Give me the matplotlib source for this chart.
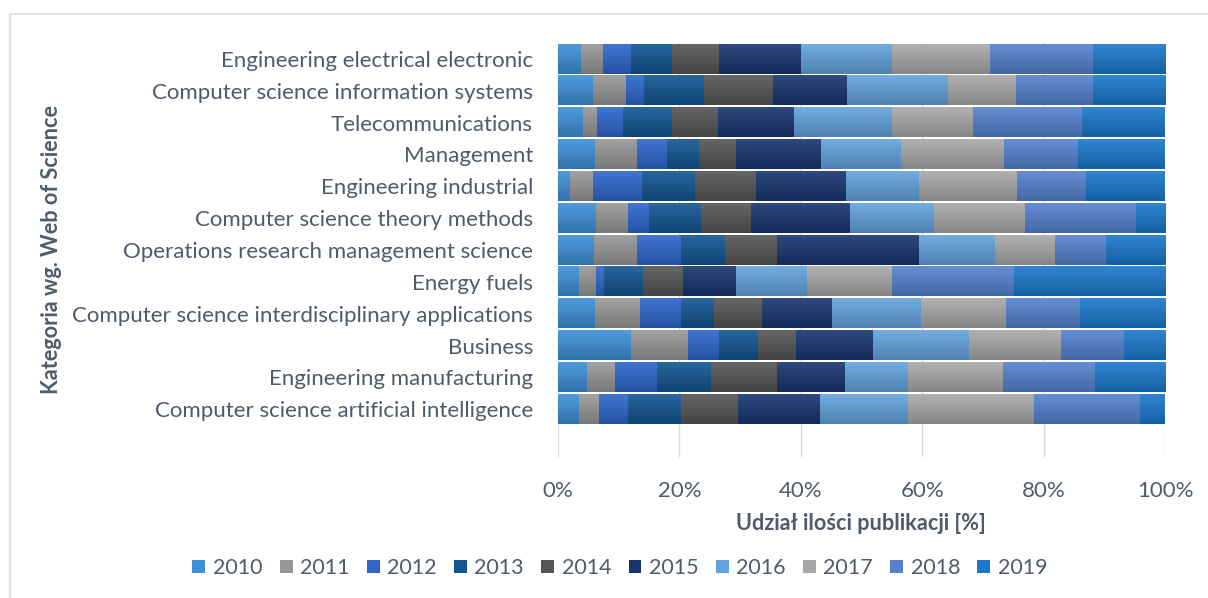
import matplotlib
matplotlib.use("Agg")
import matplotlib.pyplot as plt
import matplotlib.colors as mcolors
from matplotlib.patches import Rectangle
import numpy as np

categories = [
    "Engineering electrical electronic",
    "Computer science information systems",
    "Telecommunications",
    "Management",
    "Engineering industrial",
    "Computer science theory methods",
    "Operations research management science",
    "Energy fuels",
    "Computer science interdisciplinary applications",
    "Business",
    "Engineering manufacturing",
    "Computer science artificial intelligence",
]
years = ["2010", "2011", "2012", "2013", "2014", "2015", "2016", "2017", "2018", "2019"]

v2010 = [3.8, 5.7, 4.2, 6.1, 1.9, 6.3, 5.9, 3.4, 6.1, 12.0, 4.7, 3.4]
v2011 = [3.6, 5.5, 2.3, 6.9, 3.8, 5.3, 7.2, 2.9, 7.4, 9.4, 4.6, 3.3]
v2012 = [4.6, 2.9, 4.2, 4.9, 8.1, 3.4, 7.2, 1.3, 6.7, 5.1, 7.0, 4.9]
v2013 = [6.8, 10.0, 8.0, 5.3, 8.8, 8.7, 7.2, 6.4, 5.5, 6.4, 8.9, 8.7]
v2014 = [7.8, 11.3, 7.6, 6.1, 10.1, 8.2, 8.6, 6.6, 7.8, 6.3, 10.9, 9.4]
v2015 = [13.4, 12.2, 12.6, 14.1, 14.8, 16.3, 23.4, 8.7, 11.6, 12.6, 11.2, 13.5]
v2016 = [15.0, 16.7, 16.1, 13.1, 12.0, 13.9, 12.6, 11.8, 14.7, 15.8, 10.3, 14.4]
v2017 = [16.2, 11.2, 13.3, 17.1, 16.2, 15.0, 9.9, 13.9, 13.9, 15.2, 15.7, 20.8]
v2018 = [16.9, 12.6, 18.1, 12.2, 11.4, 18.4, 8.3, 20.1, 12.2, 10.3, 15.0, 17.5]
v2019 = [11.9, 11.9, 13.6, 14.3, 13.0, 4.8, 9.8, 24.9, 14.0, 6.8, 11.6, 4.1]
series = [v2010, v2011, v2012, v2013, v2014, v2015, v2016, v2017, v2018, v2019]

colors = ["#3d90d8", "#979797", "#2e66cc", "#115591", "#555555",
          "#17356f", "#63a3dd", "#a8a8a8", "#5581cf", "#1a78cc"]

xticklabels = ["0%", "20%", "40%", "60%", "80%", "100%"]

TXT = "#4f5b6b"
FONT = "Lato"

data = np.array(series, dtype=float)
data = data / data.sum(axis=0) * 100.0

fig = plt.figure(figsize=(12.08, 5.98), dpi=100)
W, H = 1208, 598
ax = fig.add_axes([558 / W, 1 - 457 / H, (1165 - 558) / W, (457 - 43) / H])

y = np.arange(len(categories))
bh = 0.92
left = np.zeros(len(categories))
for i, yr in enumerate(years):
    bars = ax.barh(y, data[i], left=left, height=bh, color=colors[i],
                   edgecolor="none", label=yr, zorder=2)
    base = np.array(mcolors.to_rgb(colors[i]))
    top = base + (1 - base) * 0.10
    bot = base * 0.80
    t = np.linspace(0, 1, 32)[:, None]
    grad = (top[None, :] * (1 - t) + bot[None, :] * t)[:, None, :]
    for b in bars:
        x0, yb = b.get_x(), b.get_y()
        w, h = b.get_width(), b.get_height()
        ax.imshow(grad, extent=(x0, x0 + w, yb + h, yb), origin="upper",
                  aspect="auto", interpolation="bilinear", zorder=2.5)
    left += data[i]

ax.set_xlim(0, 100)
ax.set_ylim(len(categories) + 0.5, -0.5)
ax.set_xticks(np.linspace(0, 100, len(xticklabels)))
ax.set_xticklabels(xticklabels)
ax.set_yticks(y)
ax.set_yticklabels(categories)
ax.grid(axis="x", color="#d9d9d9", linewidth=1.0, zorder=0)
ax.set_axisbelow(True)
for s in ax.spines.values():
    s.set_visible(False)
ax.tick_params(axis="both", length=0, colors=TXT)
ax.tick_params(axis="y", pad=18)
ax.tick_params(axis="x", pad=17)
for lab in ax.get_yticklabels():
    lab.set_fontfamily(FONT)
    lab.set_fontsize(16.0)
    lab.set_color(TXT)
for lab in ax.get_xticklabels():
    lab.set_fontfamily(FONT)
    lab.set_fontsize(16.0)
    lab.set_color(TXT)

fig.text(52 / W, 1 - 250 / H, "Kategoria wg. Web of Science", rotation=90,
         ha="center", va="center", fontsize=15.6, fontweight="bold",
         color=TXT, family=FONT)
fig.text(861 / W, 1 - 523 / H, "Udział ilości publikacji [%]",
         ha="center", va="center", fontsize=15.6, fontweight="bold",
         color=TXT, family=FONT)

handles = [Rectangle((0, 0), 1, 1, facecolor=c, edgecolor="none") for c in colors]
leg = fig.legend(handles, years, loc="center", bbox_to_anchor=(620 / W, 1 - 568 / H),
                 ncol=10, frameon=False, handlelength=0.6, handleheight=0.6,
                 handletextpad=0.35, columnspacing=0.8,
                 prop={"family": FONT, "size": 15.5})
for tx in leg.get_texts():
    tx.set_color(TXT)

fig.patches.append(Rectangle((10 / W, -0.1), 1.2, 1 - 14 / H + 0.1,
                             transform=fig.transFigure, fill=False,
                             edgecolor="#dfe2e8", linewidth=1.6))

fig.savefig("out.png", dpi=100, facecolor="white")
